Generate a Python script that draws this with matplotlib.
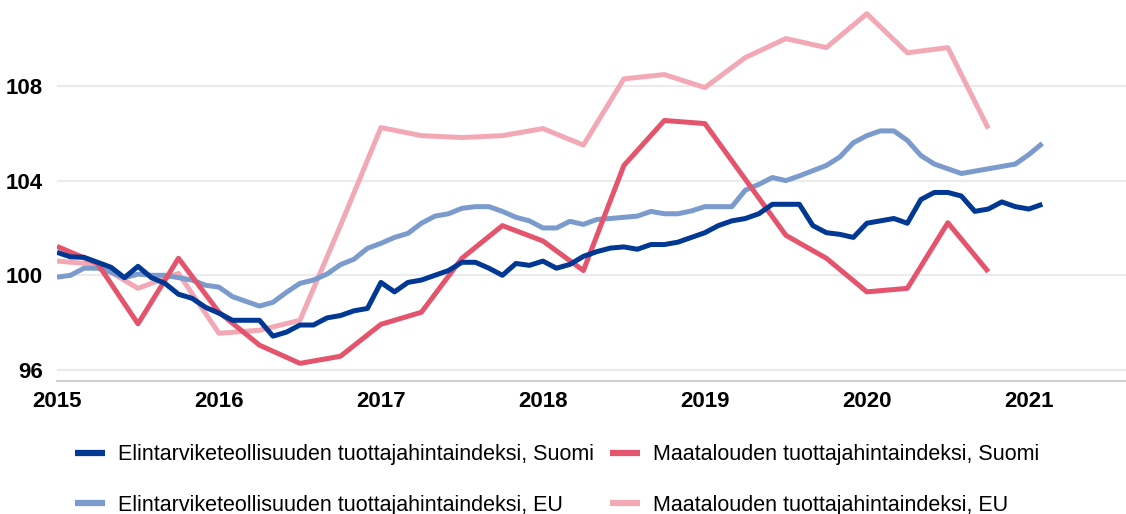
import matplotlib.pyplot as plt

plt.rcParams['font.family'] = ['Liberation Sans', 'DejaVu Sans']

# Monthly food industry producer price index (Jan 2015 - Feb 2021)
food_fi = [100.97, 100.78, 100.76, 100.55, 100.34, 99.9, 100.38, 99.9, 99.66, 99.2, 99.03, 98.65,
           98.4, 98.1, 98.1, 98.1, 97.43, 97.6, 97.9, 97.9, 98.2, 98.3, 98.5, 98.6,
           99.7, 99.3, 99.7, 99.8, 100.0, 100.2, 100.55, 100.55, 100.3, 100.0, 100.5, 100.42,
           100.6, 100.3, 100.46, 100.8, 101.0, 101.15, 101.2, 101.1, 101.3, 101.3, 101.4, 101.6,
           101.8, 102.1, 102.3, 102.4, 102.6, 103.0, 103.0, 103.0, 102.1, 101.8, 101.73, 101.6,
           102.2, 102.3, 102.4, 102.2, 103.2, 103.5, 103.5, 103.35, 102.7, 102.8, 103.1, 102.9,
           102.8, 103.0]
food_eu = [99.92, 100.0, 100.3, 100.3, 100.13, 99.9, 100.05, 100.0, 100.0, 99.9, 99.8, 99.58,
           99.5, 99.1, 98.9, 98.7, 98.86, 99.28, 99.66, 99.8, 100.05, 100.45, 100.68, 101.14,
           101.35, 101.6, 101.77, 102.2, 102.5, 102.6, 102.83, 102.9, 102.9, 102.7, 102.45, 102.3,
           102.0, 102.0, 102.28, 102.15, 102.36, 102.4, 102.45, 102.5, 102.7, 102.6, 102.6, 102.72,
           102.9, 102.9, 102.9, 103.6, 103.84, 104.13, 104.0, 104.2, 104.42, 104.64, 105.0, 105.6,
           105.9, 106.1, 106.1, 105.7, 105.06, 104.7, 104.5, 104.3, 104.4, 104.5, 104.6, 104.7,
           105.1, 105.57]

# Quarterly agricultural producer price index (Q1 2015 - Q4 2020)
agri_fi = [101.22, 100.5, 97.95, 100.72, 98.44, 97.05, 96.28, 96.58, 97.93, 98.44, 100.72, 102.1,
           101.45, 100.2, 104.64, 106.54, 106.41, 104.05, 101.69, 100.72, 99.3, 99.45, 102.22, 100.15]
agri_eu = [100.6, 100.46, 99.45, 100.08, 97.55, 97.68, 98.1, 102.1, 106.24, 105.9, 105.82, 105.9,
           106.2, 105.5, 108.3, 108.48, 107.93, 109.2, 110.0, 109.62, 111.05, 109.4, 109.62, 106.2]

years = ['2015', '2016', '2017', '2018', '2019', '2020', '2021']

labels = ['Elintarviketeollisuuden tuottajahintaindeksi, Suomi',
          'Elintarviketeollisuuden tuottajahintaindeksi, EU',
          'Maatalouden tuottajahintaindeksi, Suomi',
          'Maatalouden tuottajahintaindeksi, EU']
colors = ['#003893', '#7b9bcd', '#e4546c', '#f2a9b5']

month_x = list(range(len(food_fi)))
quarter_x = [3 * i for i in range(len(agri_fi))]

fig = plt.figure(figsize=(11.26, 5.14), dpi=100)
ax = fig.add_axes([57 / 1126, 1 - 381 / 514, 1 - 57 / 1126, 381 / 514])

lw = 3.6
h_eu_agri, = ax.plot(quarter_x, agri_eu, color=colors[3], lw=lw, label=labels[3], solid_capstyle='butt')
h_eu_food, = ax.plot(month_x, food_eu, color=colors[1], lw=lw, label=labels[1], solid_capstyle='butt')
h_fi_agri, = ax.plot(quarter_x, agri_fi, color=colors[2], lw=lw, label=labels[2], solid_capstyle='butt')
h_fi_food, = ax.plot(month_x, food_fi, color=colors[0], lw=lw, label=labels[0], solid_capstyle='butt')

ax.set_xlim(0, 79.2)
ax.set_ylim(95.535, 111.63)
ax.set_yticks([96, 100, 104, 108])
ax.set_xticks([12 * i for i in range(len(years))])
ax.set_xticklabels(years)
ax.grid(axis='y', color='#ebebeb', lw=1.5)
ax.set_axisbelow(True)
for s in ['left', 'right', 'top']:
    ax.spines[s].set_visible(False)
ax.spines['bottom'].set_color('#d0d0d0')
ax.spines['bottom'].set_linewidth(1.5)
ax.tick_params(length=0, labelsize=16)
ax.tick_params(axis='y', pad=10)
ax.tick_params(axis='x', pad=7)
for t in ax.get_xticklabels() + ax.get_yticklabels():
    t.set_fontweight('bold')

leg = fig.legend([h_fi_food, h_eu_food, h_fi_agri, h_eu_agri],
                 [labels[0], labels[1], labels[2], labels[3]],
                 ncol=2, loc='lower left', bbox_to_anchor=(75 / 1126, -2 / 514),
                 frameon=False, fontsize=15.5, handlelength=1.4, handletextpad=0.6,
                 labelspacing=1.38, columnspacing=0.75, borderpad=0, borderaxespad=0)
for line in leg.get_lines():
    line.set_linewidth(4.5)

fig.savefig('out.png', dpi=100)
